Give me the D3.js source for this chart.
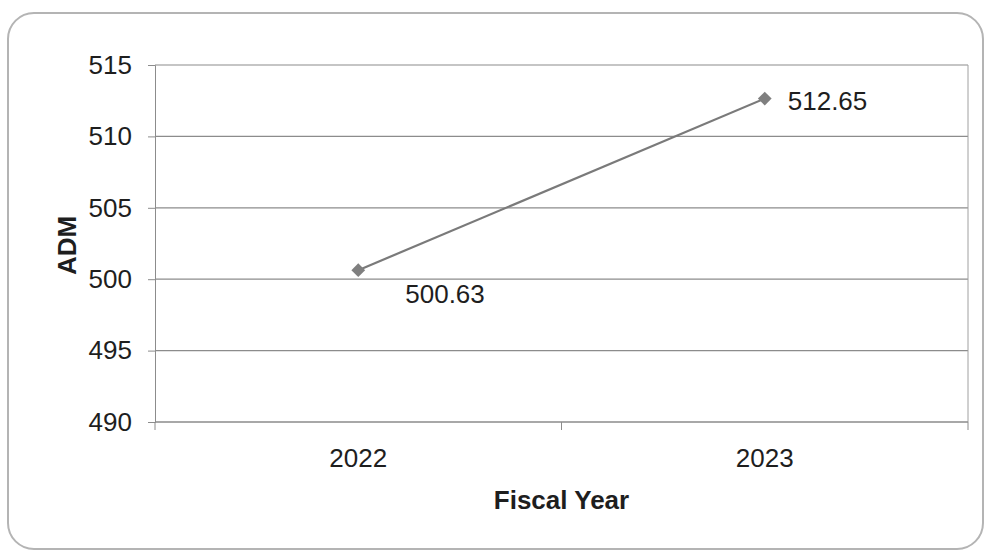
<!DOCTYPE html>
<html>
<head>
<meta charset="utf-8">
<script src="https://cdn.jsdelivr.net/npm/d3@7"></script>
<style>
  body { margin: 0; background: white; }
  text { font-family: "Liberation Sans", Arial, sans-serif; fill: #1e1e1e; }
</style>
</head>
<body>
<div id="chart"></div>
<script>
var years = ["2022", "2023"]
var adm = [500.63, 512.65]
var yTicks = [490, 495, 500, 505, 510, 515]

var width = 984, height = 552
var margin = {top: 65, right: 16, bottom: 130, left: 155}
var plotW = width - margin.left - margin.right,
    plotH = height - margin.top - margin.bottom

var svg = d3.select("#chart").append("svg")
  .attr("width", width)
  .attr("height", height)

// outer frame
svg.append("rect")
  .attr("x", 8).attr("y", 13)
  .attr("width", 975).attr("height", 536)
  .attr("rx", 26)
  .attr("fill", "white")
  .attr("stroke", "#b4b4b4")
  .attr("stroke-width", 2)

var chart = svg.append("g")
  .attr("transform", "translate(" + margin.left + "," + margin.top + ")")

var x = d3.scaleBand().domain(years).range([0, plotW])
var y = d3.scaleLinear().domain([490, 515]).range([plotH, 0])

// gridlines
chart.append("g")
  .selectAll("line")
  .data(yTicks)
  .enter().append("line")
    .attr("x1", 0).attr("x2", plotW)
    .attr("y1", d => y(d)).attr("y2", d => y(d))
    .attr("stroke", "#8c8c8c")
    .attr("stroke-width", 1.2)

// right border of plot
chart.append("line")
  .attr("x1", plotW).attr("x2", plotW)
  .attr("y1", 0).attr("y2", plotH)
  .attr("stroke", "#a0a0a0")

var yAxis = chart.append("g")
  .call(d3.axisLeft(y).tickValues(yTicks).tickSize(7).tickPadding(16).tickFormat(d3.format("d")))
yAxis.select(".domain").attr("stroke", "#8c8c8c")
yAxis.selectAll(".tick line").attr("stroke", "#8c8c8c")
yAxis.selectAll("text").style("font-size", "26px").attr("fill", "#1e1e1e")

// x axis: ticks at category boundaries
var xAxis = chart.append("g")
  .attr("transform", "translate(0," + plotH + ")")
xAxis.append("line")
  .attr("x1", 0).attr("x2", plotW)
  .attr("stroke", "#8c8c8c").attr("stroke-width", 1.2)
var bounds = [0].concat(years.map(d => x(d) + x.bandwidth()))
xAxis.selectAll(".bt")
  .data(bounds)
  .enter().append("line")
    .attr("class", "bt")
    .attr("x1", d => d).attr("x2", d => d)
    .attr("y1", 0).attr("y2", 8)
    .attr("stroke", "#8c8c8c")
xAxis.selectAll(".xl")
  .data(years)
  .enter().append("text")
    .attr("class", "xl")
    .attr("x", d => x(d) + x.bandwidth() / 2)
    .attr("y", 45)
    .attr("text-anchor", "middle")
    .style("font-size", "26px")
    .text(d => d)

var pts = years.map((d, i) => ({year: d, value: adm[i]}))

var line = d3.line()
  .x(d => x(d.year) + x.bandwidth() / 2)
  .y(d => y(d.value))

chart.append("path")
  .datum(pts)
  .attr("d", line)
  .attr("fill", "none")
  .attr("stroke", "#7a7a7a")
  .attr("stroke-width", 2.2)

chart.selectAll(".pt")
  .data(pts)
  .enter().append("path")
    .attr("class", "pt")
    .attr("d", d3.symbol().type(d3.symbolDiamond2).size(120))
    .attr("transform", d => "translate(" + (x(d.year) + x.bandwidth() / 2) + "," + y(d.value) + ")")
    .attr("fill", "#7f7f7f")

// value labels
chart.selectAll(".vl")
  .data(pts)
  .enter().append("text")
    .attr("class", "vl")
    .attr("x", (d, i) => x(d.year) + x.bandwidth() / 2 + (i == 0 ? 47 : 23))
    .attr("y", (d, i) => y(d.value) + (i == 0 ? 33 : 11))
    .style("font-size", "26px")
    .text(d => d3.format(".2f")(d.value))

// axis titles
svg.append("text")
  .attr("x", margin.left + plotW / 2)
  .attr("y", 509)
  .attr("text-anchor", "middle")
  .style("font-size", "26px")
  .style("font-weight", "bold")
  .text("Fiscal Year")

svg.append("text")
  .attr("transform", "translate(76," + (margin.top + plotH / 2 + 2) + ") rotate(-90)")
  .attr("text-anchor", "middle")
  .style("font-size", "26px")
  .style("font-weight", "bold")
  .text("ADM")
</script>
</body>
</html>
